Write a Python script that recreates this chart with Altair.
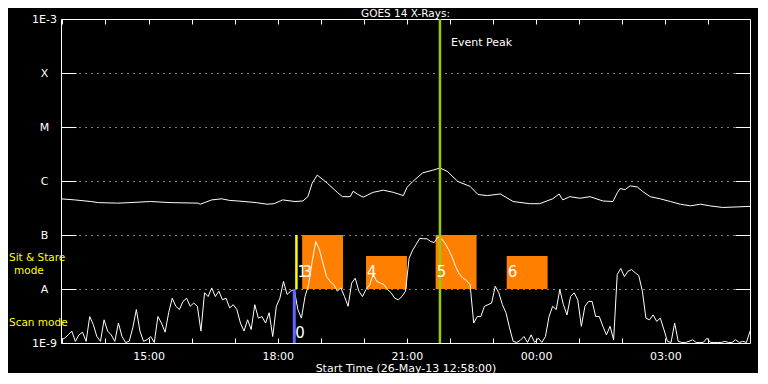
import altair as alt
import pandas as pd

FONT = "DejaVu Sans"

# ---------------- data ----------------
# GOES long channel (1-8 A): time, log10(flux W/m^2)
long_times = [
    "2013-05-26T12:58", "2013-05-26T13:17", "2013-05-26T13:40", "2013-05-26T13:50",
    "2013-05-26T14:17", "2013-05-26T14:34", "2013-05-26T15:03", "2013-05-26T15:30",
    "2013-05-26T16:09", "2013-05-26T16:12", "2013-05-26T16:28", "2013-05-26T16:42",
    "2013-05-26T16:53", "2013-05-26T17:05", "2013-05-26T17:30", "2013-05-26T17:45",
    "2013-05-26T17:55", "2013-05-26T18:07", "2013-05-26T18:24", "2013-05-26T18:35",
    "2013-05-26T18:42", "2013-05-26T18:48", "2013-05-26T18:55", "2013-05-26T19:09",
    "2013-05-26T19:23", "2013-05-26T19:30", "2013-05-26T19:41", "2013-05-26T19:45",
    "2013-05-26T19:52", "2013-05-26T19:59", "2013-05-26T20:13", "2013-05-26T20:27",
    "2013-05-26T20:41", "2013-05-26T20:55", "2013-05-26T21:00", "2013-05-26T21:08",
    "2013-05-26T21:22", "2013-05-26T21:36", "2013-05-26T21:46", "2013-05-26T21:56",
    "2013-05-26T22:11", "2013-05-26T22:28", "2013-05-26T22:39", "2013-05-26T22:52",
    "2013-05-26T23:10", "2013-05-26T23:28", "2013-05-26T23:51", "2013-05-27T00:05",
    "2013-05-27T00:23", "2013-05-27T00:32", "2013-05-27T00:37", "2013-05-27T00:47",
    "2013-05-27T01:01", "2013-05-27T01:15", "2013-05-27T01:33", "2013-05-27T01:47",
    "2013-05-27T01:53", "2013-05-27T01:57", "2013-05-27T02:04", "2013-05-27T02:11",
    "2013-05-27T02:21", "2013-05-27T02:28", "2013-05-27T02:39", "2013-05-27T02:53",
    "2013-05-27T03:07", "2013-05-27T03:21", "2013-05-27T03:35", "2013-05-27T03:49",
    "2013-05-27T04:02", "2013-05-27T04:20", "2013-05-27T04:40", "2013-05-27T04:58",
]
long_log = [
    -6.33, -6.35, -6.38, -6.40, -6.41, -6.40, -6.38, -6.40,
    -6.41, -6.43, -6.35, -6.33, -6.36, -6.37, -6.40, -6.43,
    -6.42, -6.35, -6.38, -6.37, -6.29, -6.04, -5.89, -6.04,
    -6.21, -6.29, -6.29, -6.19, -6.25, -6.30, -6.21, -6.17,
    -6.21, -6.27, -6.12, -6.01, -5.85, -5.80, -5.76, -5.82,
    -6.01, -6.10, -6.25, -6.27, -6.24, -6.38, -6.42, -6.42,
    -6.33, -6.24, -6.35, -6.29, -6.32, -6.29, -6.37, -6.38,
    -6.22, -6.14, -6.16, -6.09, -6.11, -6.19, -6.29, -6.33,
    -6.38, -6.43, -6.46, -6.43, -6.46, -6.49, -6.48, -6.47,
]

# GOES short channel (0.5-4 A), 5-minute cadence from the start time, log10(flux)
short_start = "2013-05-26T12:58"
short_log = [
    -8.94, -8.91, -8.85, -8.78, -8.97, -8.85, -8.80, -8.97, -8.51, -8.66,
    -8.88, -8.97, -8.57, -8.78, -8.85, -8.97, -8.63, -8.88, -8.99, -8.97,
    -8.72, -8.38, -8.78, -8.97, -8.94, -8.88, -8.99, -8.51, -8.63, -8.80,
    -8.44, -8.17, -8.32, -8.38, -8.23, -8.17, -8.32, -8.26, -8.32, -8.78,
    -8.07, -8.14, -7.98, -8.14, -8.04, -8.20, -8.17, -8.35, -8.29, -8.38,
    -8.63, -8.78, -8.57, -8.75, -8.29, -8.54, -8.51, -8.63, -8.44, -8.88,
    -8.32, -8.17, -7.86, -8.10, -8.04, -8.01, -8.38, -8.54, -8.14, -7.92,
    -7.49, -7.12, -7.27, -7.52, -7.77, -7.86, -7.92, -8.04, -7.98, -8.14,
    -8.32, -7.89, -7.80, -8.04, -8.14, -8.01, -7.92, -7.73, -7.86, -7.89,
    -7.92, -8.01, -8.07, -8.17, -8.20, -8.14, -8.04, -7.43, -7.28, -7.17,
    -7.06, -7.07, -7.07, -7.12, -7.14, -7.04, -7.07, -7.15, -7.27, -7.41,
    -7.59, -7.72, -7.80, -7.84, -7.92, -8.63, -8.51, -8.51, -8.32, -8.29,
    -8.26, -7.95, -8.07, -8.29, -8.44, -8.72, -8.97, -8.99, -8.95, -8.88,
    -8.99, -8.85, -8.99, -8.91, -8.99, -8.88, -8.51, -8.32, -8.38, -8.01,
    -8.29, -8.48, -8.14, -8.07, -8.20, -8.69, -8.32, -8.23, -8.23, -8.51,
    -8.51, -8.69, -8.85, -8.69, -8.94, -7.73, -7.62, -7.77, -7.67, -7.64,
    -7.70, -7.75, -8.04, -8.54, -8.57, -8.48, -8.60, -8.54, -8.75, -8.97,
    -8.99, -8.63, -8.97, -8.99, -8.99, -8.97, -8.94, -8.99, -8.99, -8.99,
    -8.91, -8.99, -8.99, -8.99, -8.99, -8.97, -8.99, -8.99, -8.94, -8.99,
    -8.97, -8.99, -8.78,
]

# observation blocks (orange boxes)
box_start = ["2013-05-26T18:34", "2013-05-26T20:03", "2013-05-26T21:40", "2013-05-26T23:19"]
box_end = ["2013-05-26T19:31", "2013-05-26T21:00", "2013-05-26T22:37", "2013-05-27T00:16"]
box_low = [1e-8, 1e-8, 1e-8, 1e-8]
box_high = [1e-7, 4.1e-8, 1e-7, 4.1e-8]

# observation numbers
obs_labels = ["0", "1", "3", "4", "5", "6"]
obs_times = ["2013-05-26T18:23", "2013-05-26T18:26", "2013-05-26T18:33",
             "2013-05-26T20:03", "2013-05-26T21:40", "2013-05-26T23:19"]
obs_flux = [1.55e-9, 2.1e-8, 2.1e-8, 2.1e-8, 2.1e-8, 2.1e-8]

# mode markers (scan = blue, sit & stare = yellow) and event peak
mode_times = ["2013-05-26T18:23", "2013-05-26T18:26", "2013-05-26T21:46"]
mode_low = [1e-9, 1e-8, 1e-9]
mode_high = [1e-8, 1e-7, 1e-3]
mode_colors = ["#6464FF", "#FFFF00", "#99CC00"]
mode_widths = [3, 2.5, 2.5]

peak_time = "2013-05-26T21:46"
peak_flux = 3.6e-4
peak_text = "Event Peak"

# chart title, centred over the time axis just above the 1E-3 line
title_text = "GOES 14 X-Rays:"
title_time = "2013-05-26T20:58"
title_flux = 1.11e-3

side_labels = ["Sit & Stare", "mode", "Scan mode"]
side_flux = [3.69e-8, 2.19e-8, 2.3e-9]
side_x = [-52, -47, -52]

flux_ticks = [1e-9, 1e-8, 1e-7, 1e-6, 1e-5, 1e-4, 1e-3]
flux_names = ["1E-9", "A", "B", "C", "M", "X", "1E-3"]
inner_ticks = [1e-8, 1e-7, 1e-6, 1e-5, 1e-4]

# ---------------- tables ----------------
long_df = pd.DataFrame({"t": long_times, "f": [10 ** v for v in long_log]})
short_df = pd.DataFrame({
    "t": pd.date_range(short_start, periods=len(short_log), freq="5min").strftime("%Y-%m-%dT%H:%M"),
    "f": [10 ** v for v in short_log],
})
box_df = pd.DataFrame({"t0": box_start, "t1": box_end, "lo": box_low, "hi": box_high})
obs_df = pd.DataFrame({"t": obs_times, "f": obs_flux, "label": obs_labels})
mode_df = pd.DataFrame({"t": mode_times, "lo": mode_low, "hi": mode_high,
                        "c": mode_colors, "w": mode_widths})
peak_df = pd.DataFrame({"t": [peak_time], "f": [peak_flux], "label": [peak_text]})
title_df = pd.DataFrame({"t": [title_time], "f": [title_flux], "label": [title_text]})
side_df = pd.DataFrame({"label": side_labels, "f": side_flux, "x": side_x})

# ---------------- scales / axes ----------------
xs = alt.Scale(domain=[alt.DateTime(year=2013, month=5, date=26, hours=12, minutes=58),
                       alt.DateTime(year=2013, month=5, date=27, hours=4, minutes=58)],
               nice=False)
ys = alt.Scale(type="log", domain=[1e-9, 1e-3], nice=False)

hour_ticks = ([alt.DateTime(year=2013, month=5, date=26, hours=h) for h in range(13, 24)] +
              [alt.DateTime(year=2013, month=5, date=27, hours=h) for h in range(0, 5)])

name_expr = "[" + ",".join("'%s'" % n for n in flux_names) + "][round(log(datum.value)/LN10)+9]"

x_bottom = alt.Axis(orient="bottom", values=hour_ticks, offset=-5, tickSize=5, ticks=True,
                    domain=False, grid=False, labelPadding=7, labelOverlap=False,
                    labelFlush=False,
                    labelExpr="hours(datum.value) % 3 == 0 ? timeFormat(datum.value, '%H:%M') : ''",
                    title="Start Time (26-May-13 12:58:00)", titleY=30, titleBaseline="middle")
y_left = alt.Axis(orient="left", values=flux_ticks, labelExpr=name_expr, ticks=False,
                  tickSize=0, domain=False, grid=True, gridDash=[1, 5], labelAlign="center",
                  labelBaseline="middle", labelPadding=17, labelOverlap=False,
                  labelFlush=False, title=None)
x_top = alt.Axis(orient="top", values=hour_ticks, offset=-5, tickSize=5, labels=False,
                 domain=False, grid=False, title=None)
y_right = alt.Axis(orient="right", values=inner_ticks, offset=-15, tickSize=15, labels=False,
                   domain=False, grid=False, title=None)
y_left_ticks = alt.Axis(orient="left", values=inner_ticks, offset=-15, tickSize=15,
                        labels=False, domain=False, grid=False, title=None)

boxes = alt.Chart(box_df).mark_rect(color="#FF8000").encode(
    x=alt.X("t0:T", scale=xs, axis=None), x2="t1:T",
    y=alt.Y("lo:Q", scale=ys, axis=y_left_ticks), y2="hi:Q")

long_line = alt.Chart(long_df).mark_line(color="white", strokeWidth=1).encode(
    x=alt.X("t:T", scale=xs, axis=x_bottom),
    y=alt.Y("f:Q", scale=ys, axis=y_left))

short_line = alt.Chart(short_df).mark_line(color="white", strokeWidth=1).encode(
    x=alt.X("t:T", scale=xs, axis=x_top),
    y=alt.Y("f:Q", scale=ys, axis=y_right))

modes = alt.Chart(mode_df).mark_rule().encode(
    x=alt.X("t:T", scale=xs, axis=None),
    y=alt.Y("lo:Q", scale=ys, axis=None), y2="hi:Q",
    color=alt.Color("c:N", scale=None),
    strokeWidth=alt.StrokeWidth("w:Q", scale=None))

obs_text = alt.Chart(obs_df).mark_text(align="left", baseline="middle", dx=1, fontSize=15,
                                      color="white", font=FONT).encode(
    x=alt.X("t:T", scale=xs, axis=None),
    y=alt.Y("f:Q", scale=ys, axis=None),
    text="label:N")

peak_label = alt.Chart(peak_df).mark_text(align="left", baseline="middle", dx=11, fontSize=11,
                                         color="white", font=FONT).encode(
    x=alt.X("t:T", scale=xs, axis=None),
    y=alt.Y("f:Q", scale=ys, axis=None),
    text="label:N")

title_mark = alt.Chart(title_df).mark_text(align="center", baseline="alphabetic", fontSize=10.5,
                                          color="white", font=FONT).encode(
    x=alt.X("t:T", scale=xs, axis=None),
    y=alt.Y("f:Q", scale=ys, axis=None),
    text="label:N")

side_text = alt.Chart(side_df).mark_text(align="left", baseline="middle", fontSize=10.5,
                                        color="#FFFF00", font=FONT).encode(
    x=alt.X("x:Q", scale=None, axis=None),
    y=alt.Y("f:Q", scale=ys, axis=None),
    text="label:N")

chart = alt.layer(
    boxes, long_line, short_line, modes, obs_text, peak_label, title_mark, side_text
).resolve_axis(x="independent", y="independent").properties(
    width=689, height=324,
    autosize=alt.AutoSizeParams(type="none"),
    padding={"left": 53, "top": 11, "right": 8, "bottom": 30},
).configure(background="black", font=FONT).configure_view(
    stroke="white", strokeWidth=1
).configure_axis(
    labelColor="white", tickColor="white", titleColor="white", labelFont=FONT, titleFont=FONT,
    labelFontSize=11, titleFontSize=11, titleFontWeight="normal", tickWidth=1,
    gridColor="white", gridOpacity=1, gridWidth=1
)

chart.save("out.html", embed_options={"renderer": "svg", "actions": False})
